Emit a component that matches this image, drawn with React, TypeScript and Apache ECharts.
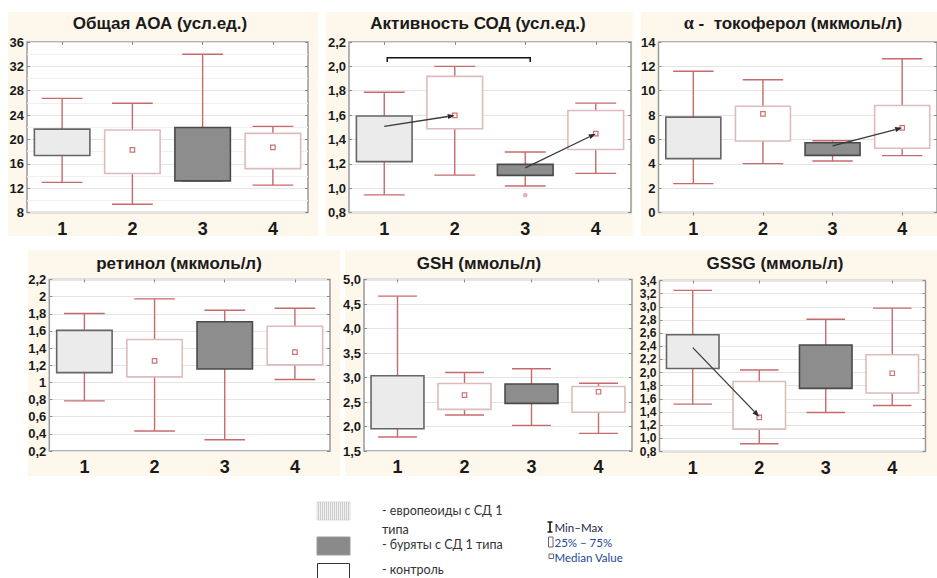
import React, { useEffect, useRef } from "react";
import * as echarts from "echarts";

const categories = ["1", "2", "3", "4"];

const titles = [
  "Общая АОА (усл.ед.)",
  "Активность СОД (усл.ед.)",
  "α -  токоферол (мкмоль/л)",
  "ретинол (мкмоль/л)",
  "GSH (ммоль/л)",
  "GSSG (ммоль/л)",
];

// per group: [min, Q1, Q3, max]
const aoaBoxes = [[12.95, 17.35, 21.7, 26.75], [9.35, 14.4, 21.55, 25.95], [13.15, 13.2, 21.95, 34.0], [12.5, 15.2, 21.0, 22.15]];
const sodBoxes = [[0.945, 1.218, 1.592, 1.788], [1.107, 1.488, 1.918, 2.0], [1.018, 1.105, 1.195, 1.297], [1.121, 1.317, 1.638, 1.698]];
const tocBoxes = [[2.37, 4.42, 7.83, 11.6], [4.01, 5.87, 8.73, 10.9], [4.23, 4.69, 5.73, 5.89], [4.67, 5.27, 8.79, 12.63]];
const retBoxes = [[0.784, 1.114, 1.607, 1.803], [0.433, 1.064, 1.5, 1.974], [0.332, 1.157, 1.708, 1.842], [1.033, 1.204, 1.655, 1.865]];
const gshBoxes = [[1.785, 1.955, 3.035, 4.66], [2.234, 2.349, 2.879, 3.103], [2.022, 2.471, 2.868, 3.178], [1.86, 2.29, 2.815, 2.882]];
const gssgBoxes = [[1.52, 2.062, 2.575, 3.25], [0.917, 1.14, 1.864, 2.04], [1.392, 1.76, 2.42, 2.81], [1.5, 1.69, 2.27, 2.98]];

// median markers shown (null = not visible)
const aoaMedians = [null, 18.3, null, 18.7];
const sodMedians = [null, 1.598, null, 1.447];
const tocMedians = [null, 8.1, null, 6.95];
const retMedians = [null, 1.251, null, 1.352];
const gshMedians = [null, 2.641, null, 2.709];
const gssgMedians = [null, 1.32, null, 1.99];

// single extra point (panel СОД, group 3)
const sodOutliers = [[2, 0.944]];

// arrows: [fromCat, fromValue, toCat, toValue]
const sodArrows = [[0, 1.507, 1, 1.597], [2, 1.167, 3, 1.447]];
const tocArrows = [[2, 5.48, 3, 6.95]];
const gssgArrows = [[0, 2.38, 1, 1.33]];

// significance bracket (СОД): [fromCat, toCat, level, tickEnd]
const sodBracket = [[0, 2, 2.07, 2.035]];

const yMins = [8, 0.8, 0, 0.2, 1.5, 0.8];
const yMaxs = [36, 2.2, 14, 2.2, 5.0, 3.4];
const yIntervals = [4, 0.2, 2, 0.2, 0.5, 0.2];
const yDecimals = [0, 1, 0, -1, 1, 1];

const legendItems = ["- европеоиды с СД 1", "типа", "- буряты с СД 1 типа", "- контроль"];
const legendKeys = ["Min–Max", "25% – 75%", "Median Value"];

const boxes = [aoaBoxes, sodBoxes, tocBoxes, retBoxes, gshBoxes, gssgBoxes];
const medians = [aoaMedians, sodMedians, tocMedians, retMedians, gshMedians, gssgMedians];
const arrows: number[][][] = [[], sodArrows, tocArrows, [], [], gssgArrows];

const grids = [
  { left: 27, top: 42, width: 281, height: 170.5 },
  { left: 349, top: 42, width: 282, height: 170.5 },
  { left: 658.5, top: 42, width: 285.5, height: 170.5 },
  { left: 49.3, top: 279.5, width: 280.7, height: 171.5 },
  { left: 364, top: 279.5, width: 268, height: 171.5 },
  { left: 659.5, top: 280.5, width: 266, height: 171 },
];
const titlePos = [[160, 23], [478, 23], [793, 23], [179, 263], [479, 263], [775, 263]];
const creamRects = [
  [8, 12, 310, 224], [326, 12, 307, 224], [641, 12, 296, 224],
  [28, 250, 312, 226], [345, 250, 290, 226], [633, 250, 304, 226],
];

const FONT = "Liberation Sans, Arial, sans-serif";
const WHISKER = "#c76a6c";
const boxStyles = [
  { fill: "#ebebeb", stroke: "#666666" },
  { fill: "#ffffff", stroke: "#dcbcbc" },
  { fill: "#8d8d8d", stroke: "#4a4a4a" },
  { fill: "#ffffff", stroke: "#dcbcbc" },
];

function fmt(v: number, d: number) {
  if (d === 0) return String(Math.round(v));
  if (d < 0) return String(+v.toFixed(1)).replace(".", ",");
  return v.toFixed(d).replace(".", ",");
}

function renderBox(params: any, api: any) {
  const c = api.value(0);
  const mn = api.value(1), q1 = api.value(2), q3 = api.value(3), mx = api.value(4);
  const band = api.size([1, 0])[0];
  const pMax = api.coord([c, mx]);
  const pMin = api.coord([c, mn]);
  const pQ1 = api.coord([c, q1]);
  const pQ3 = api.coord([c, q3]);
  const x = pMax[0];
  const bw = band * 0.79;
  const cw = band * 0.58;
  const st = boxStyles[c];
  const ls = { stroke: WHISKER, lineWidth: 1.4 };
  return {
    type: "group",
    children: [
      { type: "line", shape: { x1: x, y1: pMax[1], x2: x, y2: pMin[1] }, style: ls },
      { type: "line", shape: { x1: x - cw / 2, y1: pMax[1], x2: x + cw / 2, y2: pMax[1] }, style: ls },
      { type: "line", shape: { x1: x - cw / 2, y1: pMin[1], x2: x + cw / 2, y2: pMin[1] }, style: ls },
      {
        type: "rect",
        shape: { x: x - bw / 2, y: pQ3[1], width: bw, height: Math.max(pQ1[1] - pQ3[1], 1) },
        style: { fill: st.fill, stroke: st.stroke, lineWidth: 1.6 },
      },
    ],
  };
}

function renderArrow(params: any, api: any) {
  const a = api.coord([api.value(0), api.value(1)]);
  const b = api.coord([api.value(2), api.value(3)]);
  const ang = Math.atan2(b[1] - a[1], b[0] - a[0]);
  const L = 7, W = 2.6;
  const cs = Math.cos(ang), sn = Math.sin(ang);
  const bx = b[0] - L * cs, by = b[1] - L * sn;
  return {
    type: "group",
    children: [
      { type: "line", shape: { x1: a[0], y1: a[1], x2: bx, y2: by }, style: { stroke: "#3a3a3a", lineWidth: 1.3 } },
      {
        type: "polygon",
        shape: { points: [[b[0], b[1]], [bx - W * sn, by + W * cs], [bx + W * sn, by - W * cs]] },
        style: { fill: "#2a2a2a" },
      },
    ],
  };
}

function renderBracket(params: any, api: any) {
  const p1 = api.coord([api.value(0), api.value(2)]);
  const p2 = api.coord([api.value(1), api.value(2)]);
  const t1 = api.coord([api.value(0), api.value(3)]);
  return {
    type: "polyline",
    shape: { points: [[p1[0] + 3, t1[1]], [p1[0] + 3, p1[1]], [p2[0] + 5, p2[1]], [p2[0] + 5, t1[1]]] },
    style: { stroke: "#111", lineWidth: 1.5, fill: null },
  };
}

export default function App() {
  const ref = useRef<HTMLDivElement>(null);
  useEffect(() => {
    if (!ref.current) return;
    const chart = echarts.init(ref.current, undefined, { renderer: "svg" });

    const graphic: any[] = [];
    creamRects.forEach((r) => {
      graphic.push({ type: "rect", z: -100, silent: true, shape: { x: r[0], y: r[1], width: r[2], height: r[3] }, style: { fill: "#fdf7ec" } });
    });
    titles.forEach((t, i) => {
      if (i === 2) {
        graphic.push({
          type: "text", x: titlePos[i][0], y: titlePos[i][1],
          style: {
            text: "{a|α}{b|" + t.slice(1) + "}", align: "center", verticalAlign: "middle",
            rich: {
              a: { font: `bold 18px "Liberation Serif", serif`, fill: "#1a1a1a" },
              b: { font: `bold 17px ${FONT}`, fill: "#1a1a1a" },
            },
          },
        });
        return;
      }
      graphic.push({
        type: "text", x: titlePos[i][0], y: titlePos[i][1],
        style: { text: t, fill: "#1a1a1a", font: `bold 17px ${FONT}`, align: "center", verticalAlign: "middle" },
      });
    });
    // legend swatches
    graphic.push({ type: "rect", shape: { x: 317, y: 502, width: 33, height: 18 }, style: { fill: "#f1f1f1", stroke: "#dddddd", lineWidth: 1 } });
    for (let k = 0; k < 16; k++) {
      graphic.push({ type: "line", shape: { x1: 318.5 + k * 2, y1: 502, x2: 318.5 + k * 2, y2: 520 }, style: { stroke: "#c4c4c4", lineWidth: 0.8 } });
    }
    graphic.push({ type: "rect", shape: { x: 317, y: 537, width: 33, height: 18 }, style: { fill: "#8a8a8a", stroke: "#9a9a9a", lineWidth: 1 } });
    graphic.push({ type: "rect", shape: { x: 317.5, y: 563.5, width: 32, height: 20 }, style: { fill: "#ffffff", stroke: "#333", lineWidth: 1 } });
    const legY = [510, 529, 544, 569];
    legendItems.forEach((t, i) => {
      graphic.push({
        type: "text", x: 382, y: legY[i],
        style: { text: t, fill: "#333", font: `12.5px Lato, "Open Sans", sans-serif`, verticalAlign: "middle" },
      });
    });
    // key icons
    graphic.push({ type: "line", shape: { x1: 550, y1: 522, x2: 550, y2: 532 }, style: { stroke: "#111", lineWidth: 1.6 } });
    graphic.push({ type: "line", shape: { x1: 547.5, y1: 522, x2: 552.5, y2: 522 }, style: { stroke: "#111", lineWidth: 1.4 } });
    graphic.push({ type: "line", shape: { x1: 547.5, y1: 532, x2: 552.5, y2: 532 }, style: { stroke: "#111", lineWidth: 1.4 } });
    graphic.push({ type: "rect", shape: { x: 548.5, y: 537, width: 4.5, height: 10 }, style: { fill: "#fff", stroke: "#444", lineWidth: 0.8 } });
    graphic.push({ type: "rect", shape: { x: 549, y: 554, width: 4.5, height: 4.5 }, style: { fill: "#fff", stroke: "#444", lineWidth: 0.8 } });
    const keyY = [527, 542, 557];
    const keyCol = ["#1d2744", "#23479a", "#23479a"];
    legendKeys.forEach((t, i) => {
      graphic.push({
        type: "text", x: 554.5, y: keyY[i],
        style: { text: t, fill: keyCol[i], font: `11.5px Lato, "Open Sans", sans-serif`, verticalAlign: "middle" },
      });
    });

    const xAxis: any[] = [];
    const yAxis: any[] = [];
    const series: any[] = [];
    const tickStyle = { show: true, inside: true, length: 3, lineStyle: { color: "#8a8a8a", width: 1 } };
    grids.forEach((g, i) => {
      xAxis.push({
        gridIndex: i, type: "category", data: categories, boundaryGap: true,
        axisLine: { show: false }, axisTick: { show: false }, splitLine: { show: false },
        axisLabel: { fontSize: 18, fontWeight: "bold", color: "#1a1a1a", margin: 7, fontFamily: FONT },
      });
      const small = i === 5;
      yAxis.push({
        gridIndex: i, type: "value", min: yMins[i], max: yMaxs[i], interval: yIntervals[i],
        axisLine: { show: false }, axisTick: { ...tickStyle },
        axisLabel: {
          fontSize: small ? 12 : 13, lineHeight: small ? 12 : 14, fontWeight: "bold", color: "#1a1a1a",
          margin: 3, fontFamily: FONT,
          formatter: (v: number) => fmt(v, yDecimals[i]),
        },
        splitLine: { show: true, lineStyle: { color: "#e4e4e4", width: 1 } },
        minorTick: { show: false, splitNumber: 2 },
        minorSplitLine: { show: i === 0, lineStyle: { color: "#efefef", width: 1 } },
      });
    });
    grids.forEach((g, i) => {
      // mirrored axes for the small frame ticks on top and right
      xAxis.push({
        gridIndex: i, type: "category", data: categories, boundaryGap: true, position: "top",
        axisLine: { show: false }, axisTick: { ...tickStyle, alignWithLabel: true }, axisLabel: { show: false }, splitLine: { show: false },
      });
      yAxis.push({
        gridIndex: i, type: "value", min: yMins[i], max: yMaxs[i], interval: yIntervals[i], position: "right",
        axisLine: { show: false }, axisTick: { ...tickStyle }, axisLabel: { show: false }, splitLine: { show: false },
      });
    });
    grids.forEach((g, i) => {
      series.push({
        type: "custom", xAxisIndex: i, yAxisIndex: i, renderItem: renderBox, clip: false,
        encode: { x: 0, y: [1, 2, 3, 4] },
        data: boxes[i].map((b, c) => [c, b[0], b[1], b[2], b[3]]),
        z: 2,
      });
      const md = medians[i].map((m, c) => (m == null ? null : [c, m])).filter((d) => d) as number[][];
      series.push({
        type: "scatter", xAxisIndex: i, yAxisIndex: i, symbol: "rect", symbolSize: 4.5,
        itemStyle: { color: "#ffffff", borderColor: "#c0504d", borderWidth: 1.2 },
        data: md, z: 4,
      });
      if (arrows[i].length) {
        series.push({
          type: "custom", xAxisIndex: i, yAxisIndex: i, renderItem: renderArrow, clip: false,
          encode: { x: [0, 2], y: [1, 3] }, data: arrows[i], z: 5,
        });
      }
    });
    series.push({
      type: "scatter", xAxisIndex: 1, yAxisIndex: 1, symbol: "circle", symbolSize: 4.5,
      itemStyle: { color: "#e39a9a" }, data: sodOutliers, z: 4,
    });
    series.push({
      type: "custom", xAxisIndex: 1, yAxisIndex: 1, renderItem: renderBracket, clip: false,
      encode: { x: [0, 1], y: [2, 3] }, data: sodBracket, z: 5,
    });

    chart.setOption({
      animation: false,
      backgroundColor: "#ffffff",
      grid: grids.map((g) => ({
        ...g, show: true, backgroundColor: "#ffffff", borderColor: "#9a9a9a", borderWidth: 1.5, containLabel: false,
      })),
      xAxis, yAxis, series, graphic,
    });
    return () => chart.dispose();
  }, []);
  return <div ref={ref} style={{ position: "fixed", left: 0, top: 0, width: 937, height: 578 }} />;
}
